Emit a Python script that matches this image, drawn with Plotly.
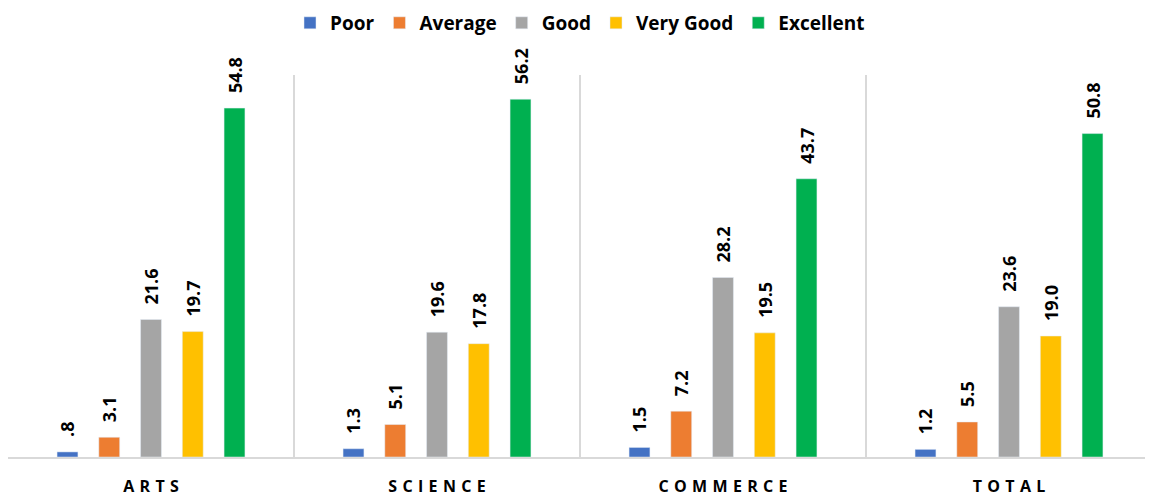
import plotly.graph_objects as go

SP = "\u2004"
categories = [SP.join("ARTS"), SP.join("SCIENCE"), SP.join("COMMERCE"), SP.join("TOTAL")]
series_names = ["Poor", "Average", "Good", "Very Good", "Excellent"]
poor = [0.8, 1.3, 1.5, 1.2]
average = [3.1, 5.1, 7.2, 5.5]
good = [21.6, 19.6, 28.2, 23.6]
very_good = [19.7, 17.8, 19.5, 19.0]
excellent = [54.8, 56.2, 43.7, 50.8]
colors = ["#4472C4", "#ED7D31", "#A5A5A5", "#FFC000", "#00B050"]

values = [poor, average, good, very_good, excellent]

def fmt(v):
    s = f"{v:.1f}"
    if s.startswith("0."):
        s = s[1:]
    return "\u2002\u2009" + s

fig = go.Figure()
for name, vals, col in zip(series_names, values, colors):
    fig.add_trace(go.Bar(
        name=name, x=categories, y=vals, marker_color=col,
        text=[fmt(v) for v in vals], textposition="outside", textangle=-90,
        cliponaxis=False, constraintext="none",
        textfont=dict(family="Open Sans", size=18, color="#000000", weight="bold"),
    ))

fig.update_layout(
    width=1145, height=488,
    margin=dict(l=0, r=1, t=67, b=39, autoexpand=False),
    paper_bgcolor="white", plot_bgcolor="white",
    barmode="group", bargap=0.27, bargroupgap=0.5,
    font=dict(family="Open Sans", color="#000000"),
    legend=dict(orientation="h", x=0.5, xanchor="center", y=1.186, yanchor="top",
                yref="paper", font=dict(size=19, weight="bold"),
                itemwidth=30, traceorder="normal"),
    showlegend=True,
)
fig.update_xaxes(
    range=[-0.5, 3.5],
    tickson="boundaries", showgrid=True, gridcolor="#D9D9D9", gridwidth=1.5,
    showline=True, linecolor="#D9D9D9", linewidth=1.5, ticks="", mirror=False,
    tickfont=dict(size=16, weight="bold"), ticklabelstandoff=14,
)
fig.update_yaxes(range=[0, 60], showgrid=False, showticklabels=False, zeroline=False)

fig.write_html("out.html")
